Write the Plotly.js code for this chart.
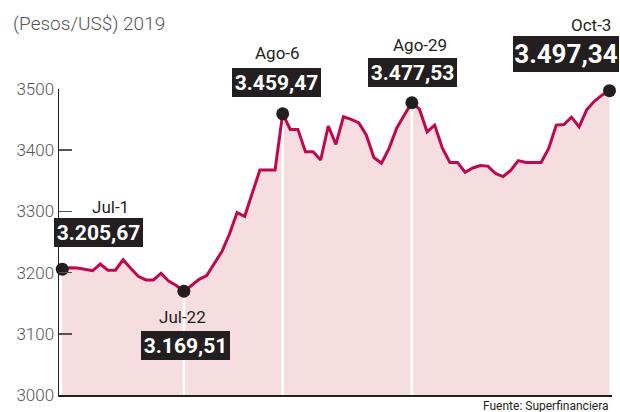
<!DOCTYPE html>
<html>
<head>
<meta charset="utf-8">
<script src="https://cdn.plot.ly/plotly-3.0.1.min.js"></script>
<style>
  html, body { margin: 0; padding: 0; background: #fff; }
  #chart { width: 620px; height: 412px; }
</style>
</head>
<body>
<div id="chart"></div>
<script>
// ---- data (TRM, pesos per US$, Jul-1 to Oct-3 2019, one value per trading day) ----
const trm = [
  3205.67, 3208, 3207.5, 3205, 3203, 3214, 3204, 3204, 3221, 3207,
  3194, 3188, 3188, 3199, 3186, 3179, 3169.51, 3179, 3189, 3195,
  3214, 3234.5, 3263, 3298, 3292, 3331, 3367.6, 3367.6, 3367.6, 3459.47,
  3434, 3434, 3397.5, 3397.5, 3384, 3439.5, 3409.6, 3454.7, 3450.5, 3445,
  3425, 3388, 3378.6, 3403, 3436, 3457.5, 3477.53, 3467, 3430, 3441,
  3403.6, 3380, 3380, 3364, 3371, 3375, 3374, 3362, 3357, 3367,
  3383, 3380, 3380, 3380, 3403, 3441, 3442, 3454, 3438, 3466,
  3480, 3490, 3497.34
];
const highlightLabels = ['Jul-1', 'Jul-22', 'Ago-6', 'Ago-29', 'Oct-3'];
const highlightIndex = [0, 16, 29, 46, 72];
const yTicks = [3000, 3100, 3200, 3300, 3400, 3500];
const chartTitle = '(Pesos/US$) 2019';
const sourceText = 'Fuente: Superfinanciera';

// ---- helpers ----
const xs = trm.map((_, i) => i);
function fmtEs(v) {
  const parts = v.toFixed(2).split('.');
  const intPart = parts[0].replace(/\B(?=(\d{3})+(?!\d))/g, '.');
  return intPart + ',' + parts[1];
}
const W = 620, H = 412;
const M = { l: 59, r: 8, t: 89, b: 17 };
const plotH = H - M.t - M.b;
const py = (pix) => (H - M.b - pix) / plotH; // pixel row -> paper y

const INK = '#231f20';
const LINE = '#c0084f';
const FILL = '#f5dde0';

// vertical white guide lines under the highlighted points (interior ones)
const gx = [], gy = [];
highlightIndex.forEach((idx) => {
  if (idx > 0 && idx < trm.length - 1) {
    gx.push(idx, idx, null);
    gy.push(yTicks[0], trm[idx], null);
  }
});

const traces = [
  { x: xs, y: trm, type: 'scatter', mode: 'lines', fill: 'tozeroy',
    fillcolor: FILL, line: { width: 0, color: FILL }, hoverinfo: 'skip' },
  { x: gx, y: gy, type: 'scatter', mode: 'lines',
    line: { color: '#ffffff', width: 2.5 }, hoverinfo: 'skip' },
  { x: xs, y: trm, type: 'scatter', mode: 'lines',
    line: { color: LINE, width: 3, shape: 'linear' }, hoverinfo: 'skip' },
  { x: highlightIndex, y: highlightIndex.map(i => trm[i]), type: 'scatter',
    mode: 'markers', marker: { color: INK, size: 13 }, cliponaxis: false, hoverinfo: 'skip' }
];

// label placement (pixel offsets / rows) per highlighted point
const boxPos = [
  { dx: 36, row: 232, big: false },
  { dx: 2, row: 345.5, big: false },
  { dx: -6, row: 82, big: false },
  { dx: 1, row: 73, big: false },
  { dx: -43, row: 54, big: true }
];
const namePos = [
  { dx: 48, row: 207 },
  { dx: -1, row: 317 },
  { dx: -5, row: 53 },
  { dx: 8, row: 45 },
  { dx: -18, row: 25 }
];

const annotations = [];
highlightIndex.forEach((idx, k) => {
  const b = boxPos[k], n = namePos[k];
  annotations.push({
    xref: 'x', yref: 'paper', x: idx, y: py(b.row), xshift: b.dx,
    xanchor: 'center', yanchor: 'middle', showarrow: false,
    text: '<b>' + fmtEs(trm[idx]) + '</b>',
    font: { family: 'Roboto, Arial, sans-serif', size: b.big ? 26 : 21, color: '#ffffff', weight: 700 },
    bgcolor: INK, borderwidth: 0, borderpad: 1,
    width: b.big ? 104 : 87, height: b.big ? 34 : 27, align: 'center', valign: 'middle'
  });
  annotations.push({
    xref: 'x', yref: 'paper', x: idx, y: py(n.row), xshift: n.dx,
    xanchor: 'center', yanchor: 'middle', showarrow: false,
    text: highlightLabels[k],
    font: { family: 'Roboto, Arial, sans-serif', size: 17, color: INK }
  });
});
annotations.push({
  xref: 'paper', yref: 'paper', x: (611 - M.l) / (W - M.l - M.r), y: py(406),
  xanchor: 'right', yanchor: 'middle', showarrow: false, text: sourceText,
  font: { family: 'Roboto, Arial, sans-serif', size: 12, color: INK }
});

const layout = {
  width: W, height: H,
  margin: M,
  paper_bgcolor: '#ffffff', plot_bgcolor: '#ffffff',
  showlegend: false,
  title: {
    text: chartTitle, xref: 'container', yref: 'container',
    x: 13 / W, xanchor: 'left', y: 1 - 23 / H, yanchor: 'middle',
    font: { family: 'Roboto, Arial, sans-serif', size: 19, color: '#555555', weight: 300 }
  },
  xaxis: {
    range: [-0.43, trm.length - 1 + 0.33],
    showline: true, linecolor: INK, linewidth: 1.5,
    showgrid: false, zeroline: false, showticklabels: false, ticks: ''
  },
  yaxis: {
    range: [yTicks[0], yTicks[yTicks.length - 1]],
    tickvals: yTicks, ticktext: yTicks.map(String),
    showline: true, linecolor: INK, linewidth: 1.5,
    ticks: 'inside', ticklen: 13, tickwidth: 1.5, tickcolor: '#555555',
    showgrid: false, zeroline: false,
    tickfont: { family: 'Roboto, Arial, sans-serif', size: 17, color: '#555555', weight: 300 }
  },
  annotations: annotations
};

Plotly.newPlot('chart', traces, layout, { staticPlot: true, displayModeBar: false });
</script>
</body>
</html>
